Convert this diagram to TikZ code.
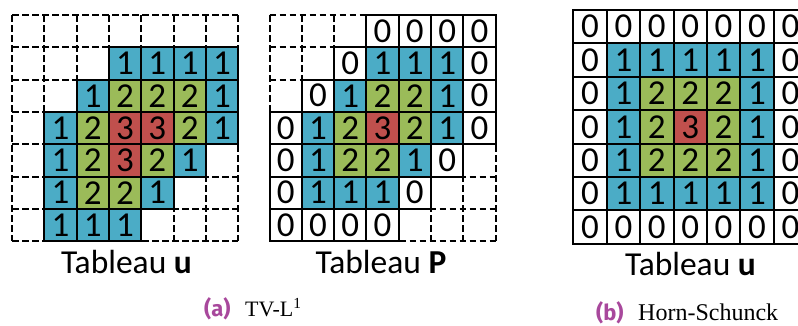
\documentclass[tikz,border=0pt]{standalone}
\usepackage{fontspec}
\newfontfamily\carlfont{Carlito}
\newfontfamily\firafont{Fira Sans}
\newfontfamily\capserif{Liberation Serif}
\definecolor{cblue}{HTML}{4BACC6}
\definecolor{cgreen}{HTML}{9BBB59}
\definecolor{cred}{HTML}{C0504D}
\definecolor{capcol}{HTML}{A8489C}
\colorlet{cell0}{white}
\colorlet{cell1}{cblue}
\colorlet{cell2}{cgreen}
\colorlet{cell3}{cred}
\begin{document}
\begin{tikzpicture}[x=1pt,y=-1pt,
  cellA/.style={draw=black, line width=2pt, minimum size=32.3pt, inner sep=0pt, font=\carlfont\fontsize{35}{35}\selectfont},
  cellB/.style={draw=black, line width=2pt, minimum size=33.4pt, inner sep=0pt, font=\carlfont\fontsize{35}{35}\selectfont},
  dashline/.style={line width=2pt, dash pattern=on 6.5pt off 3.5pt},
  tabtext/.style={font=\carlfont\fontsize{33.5}{36}\selectfont, inner sep=0pt, anchor=base},
  sublabel/.style={font=\firafont\bfseries\fontsize{22}{24}\selectfont, text=capcol, inner sep=0pt, anchor=base west},
  subtext/.style={inner sep=0pt, anchor=base west},
]
\useasboundingbox (0,0) rectangle (798,325);
\begin{scope}
\clip (0,0) rectangle (798,325);
% ---- grid 1 (Tableau u, TV-L1)
\foreach \i in {0,...,7} {
  \draw[dashline] ({12+\i*32.3},15) -- ({12+\i*32.3},241.1);
  \draw[dashline] (12,{15+\i*32.3}) -- (238.1,{15+\i*32.3});
}
\foreach \r/\c/\v in {1/3/1,1/4/1,1/5/1,1/6/1,
  2/2/1,2/3/2,2/4/2,2/5/2,2/6/1,
  3/1/1,3/2/2,3/3/3,3/4/3,3/5/2,3/6/1,
  4/1/1,4/2/2,4/3/3,4/4/2,4/5/1,
  5/1/1,5/2/2,5/3/2,5/4/1,
  6/1/1,6/2/1,6/3/1}
  \node[cellA, fill=cell\v] (a-\r-\c) at ({12+(\c+0.5)*32.3},{15+(\r+0.5)*32.3}) {\v};
% ---- grid 2 (Tableau P)
\foreach \i in {0,...,7} {
  \draw[dashline] ({269.5+\i*32.3},15) -- ({269.5+\i*32.3},241.1);
  \draw[dashline] (269.5,{15+\i*32.3}) -- (495.6,{15+\i*32.3});
}
\foreach \r/\c/\v in {0/3/0,0/4/0,0/5/0,0/6/0,
  1/2/0,1/3/1,1/4/1,1/5/1,1/6/0,
  2/1/0,2/2/1,2/3/2,2/4/2,2/5/1,2/6/0,
  3/0/0,3/1/1,3/2/2,3/3/3,3/4/2,3/5/1,3/6/0,
  4/0/0,4/1/1,4/2/2,4/3/2,4/4/1,4/5/0,
  5/0/0,5/1/1,5/2/1,5/3/1,5/4/0,
  6/0/0,6/1/0,6/2/0,6/3/0}
  \node[cellA, fill=cell\v] (p-\r-\c) at ({269.5+(\c+0.5)*32.3},{15+(\r+0.5)*32.3}) {\v};
% ---- grid 3 (Horn-Schunck)
\foreach \r in {0,...,6} {
  \foreach \c in {0,...,6} {
    \pgfmathtruncatemacro\v{3-max(abs(\r-3),abs(\c-3))}
    \node[cellB, fill=cell\v] (h-\r-\c) at ({573.3+(\c+0.5)*33.4},{10+(\r+0.5)*33.4}) {\v};
  }
}
\end{scope}
% ---- labels
\node[tabtext] (t1) at (126.5,273.3) {Tableau \textbf{u}};
\node[tabtext] (t2) at (381,273.3) {Tableau \textbf{P}};
\node[tabtext] (t3) at (690.5,275) {Tableau \textbf{u}};
% ---- captions
\node[sublabel] (capa) at (204,316) {(a)};
\node[subtext, font=\capserif\fontsize{22}{24}\selectfont] (capat) at (245,316) {TV-L\textsuperscript{1}};
\node[sublabel] (capb) at (596,320) {(b)};
\node[subtext, font=\capserif\fontsize{24}{26}\selectfont] (capbt) at (638,320) {Horn-Schunck};
\end{tikzpicture}
\end{document}
